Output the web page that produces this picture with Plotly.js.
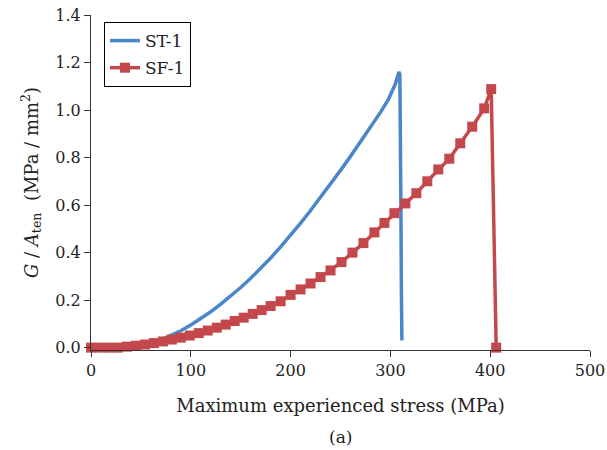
<!DOCTYPE html>
<html>
<head>
<meta charset="utf-8">
<script src="https://cdn.plot.ly/plotly-3.0.1.min.js"></script>
<style>html,body{margin:0;padding:0;background:#fff;}#chart{width:607px;height:450px;}</style>
</head>
<body>
<div id="chart"></div>
<script>
// ST-1 (blue line)
const stX = [0, 10, 20, 30, 40, 50, 60, 70, 80, 90, 100, 110, 120, 130, 140, 150, 160, 170, 180, 190, 200, 210, 220, 230, 240, 250, 260, 270, 280, 290, 298, 302, 305, 307, 308.5, 309.5, 310, 310.5, 311, 311.5];
const stY = [0, 0, 0, 0, 0.003, 0.009, 0.019, 0.033, 0.05, 0.071, 0.095, 0.122, 0.151, 0.183, 0.217, 0.253, 0.292, 0.333, 0.377, 0.424, 0.473, 0.524, 0.577, 0.632, 0.688, 0.746, 0.805, 0.865, 0.926, 0.99, 1.045, 1.08, 1.11, 1.14, 1.16, 1.15, 1.0, 0.6, 0.25, 0.03];
// SF-1 (red line with square markers)
const sfX = [0, 9, 18, 27, 36, 45, 54, 63, 72, 81, 90, 99, 108, 117, 126, 135, 144, 153, 162, 171, 180, 190, 200, 210, 220, 230, 240, 251, 262, 273, 284, 294, 304, 315, 326, 337, 348, 359, 370, 382, 394, 401, 406];
const sfY = [0, 0, 0, 0, 0.004, 0.008, 0.013, 0.019, 0.026, 0.034, 0.042, 0.051, 0.061, 0.072, 0.084, 0.097, 0.112, 0.126, 0.142, 0.158, 0.175, 0.195, 0.222, 0.245, 0.27, 0.297, 0.325, 0.36, 0.4, 0.44, 0.485, 0.525, 0.566, 0.607, 0.65, 0.7, 0.75, 0.795, 0.86, 0.93, 1.007, 1.088, 0];
const seriesNames = ["ST-1", "SF-1"];
const yTicks = [0, 0.2, 0.4, 0.6, 0.8, 1.0, 1.2, 1.4];
const xTicks = [0, 100, 200, 300, 400, 500];

const FONT = "DejaVu Serif, serif";
const AXC = "#333";

const traces = [
  {x: stX, y: stY, name: seriesNames[0], mode: "lines", type: "scatter",
   line: {color: "#4a86c8", width: 3.5}, legendgroup: "a", cliponaxis: false},
  {x: sfX, y: sfY, name: seriesNames[1], mode: "lines+markers", type: "scatter",
   line: {color: "#c4484b", width: 3.5}, marker: {symbol: "square", size: 10, color: "#c4484b"},
   legendgroup: "b", cliponaxis: false}
];

const layout = {
  width: 607, height: 450,
  margin: {l: 91, r: 17, t: 15, b: 100},
  paper_bgcolor: "#fff", plot_bgcolor: "#fff",
  font: {family: FONT, size: 16, color: "#222"},
  showlegend: true,
  legend: {x: 0.026, y: 0.979, xanchor: "left", yanchor: "top",
    bordercolor: "#000", borderwidth: 1, bgcolor: "#fff",
    font: {family: FONT, size: 17, color: "#222"},
    traceorder: "grouped", tracegroupgap: 2},
  xaxis: {range: [0, 500], tickvals: xTicks, ticktext: xTicks.map(String),
    showgrid: false, zeroline: false, showline: true, linecolor: AXC, linewidth: 1,
    ticks: "outside", ticklen: 6, tickcolor: AXC,
    title: {text: "Maximum experienced stress (MPa)", font: {family: FONT, size: 18}, standoff: 20}},
  yaxis: {range: [-0.01, 1.4], tickvals: yTicks, ticktext: yTicks.map(v => v.toFixed(1)),
    showgrid: false, zeroline: false, showline: true, linecolor: AXC, linewidth: 1,
    ticks: "outside", ticklen: 6, tickcolor: AXC,
    title: {text: "<i>G</i> / <i>A</i><sub>ten</sub>  (MPa / mm<sup>2</sup>)", font: {family: FONT, size: 18}, standoff: 12}},
  annotations: [{text: "(a)", xref: "paper", yref: "paper", x: 0.5, y: -0.26,
    xanchor: "center", yanchor: "middle", showarrow: false, font: {family: FONT, size: 17, color: "#222"}}]
};

Plotly.newPlot("chart", traces, layout, {displayModeBar: false, staticPlot: true});
</script>
</body>
</html>
